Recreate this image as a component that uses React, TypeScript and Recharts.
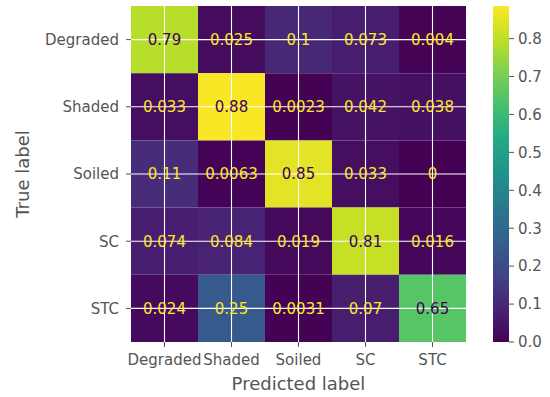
import React from 'react';
import {
  ScatterChart,
  BarChart,
  Bar,
  Scatter,
  XAxis,
  YAxis,
  ReferenceArea,
  ReferenceLine,
  Label,
} from 'recharts';

const classes = ['Degraded', 'Shaded', 'Soiled', 'SC', 'STC'];

// rows = true label, columns = predicted label
const rowDegraded = [0.79, 0.025, 0.1, 0.073, 0.004];
const rowShaded = [0.033, 0.88, 0.0023, 0.042, 0.038];
const rowSoiled = [0.11, 0.0063, 0.85, 0.033, 0];
const rowSC = [0.074, 0.084, 0.019, 0.81, 0.016];
const rowSTC = [0.024, 0.25, 0.0031, 0.07, 0.65];

const colorbarTicks = [0, 0.1, 0.2, 0.3, 0.4, 0.5, 0.6, 0.7, 0.8];
const vmax = 0.886;

const rows = [rowDegraded, rowShaded, rowSoiled, rowSC, rowSTC];
const positions = classes.map((_, i) => i);

const viridis = [
  '#440154', '#482475', '#414487', '#355f8d', '#2a788e', '#21918c',
  '#22a884', '#44bf70', '#7ad151', '#bddf26', '#fde725',
];

function hexToRgb(h: string) {
  return [1, 3, 5].map((i) => parseInt(h.slice(i, i + 2), 16));
}

function viridisColor(t: number) {
  const v = Math.max(0, Math.min(1, t)) * (viridis.length - 1);
  const i = Math.min(Math.floor(v), viridis.length - 2);
  const f = v - i;
  const a = hexToRgb(viridis[i]);
  const b = hexToRgb(viridis[i + 1]);
  const c = a.map((x, k) => Math.round(x + (b[k] - x) * f));
  return `rgb(${c[0]},${c[1]},${c[2]})`;
}

const cells = rows.flatMap((row, y) =>
  row.map((value, x) => ({ x, y, value }))
);

const colorbarData = [{ name: 'scale', v: vmax }];

const tickStyle = { fill: '#555555', fontSize: 15 };
const font = '"DejaVu Sans", sans-serif';

function CellText(props: any) {
  const { cx, cy, payload } = props;
  const dark = payload.value > vmax / 2;
  return (
    <text
      x={cx}
      y={cy}
      dy="0.36em"
      textAnchor="middle"
      fontSize={15}
      fontFamily={font}
      fill={dark ? '#440154' : '#fde725'}
    >
      {String(Number(payload.value.toPrecision(2)))}
    </text>
  );
}

export default function App() {
  return (
    <div
      style={{
        position: 'absolute',
        left: 0,
        top: 0,
        width: 550,
        height: 397,
        background: '#ffffff',
        fontFamily: font,
      }}
    >
      <svg width={0} height={0} style={{ position: 'absolute' }}>
        <defs>
          <linearGradient id="viridisBar" x1="0" y1="1" x2="0" y2="0">
            {viridis.map((c, i) => (
              <stop key={c} offset={i / (viridis.length - 1)} stopColor={c} />
            ))}
          </linearGradient>
        </defs>
      </svg>
      <div style={{ position: 'absolute', left: 0, top: 0 }}>
        <ScatterChart
          width={550}
          height={397}
          margin={{ top: 6, right: 84, bottom: 0, left: 0 }}
        >
          <XAxis
            type="number"
            dataKey="x"
            domain={[-0.5, 4.5]}
            ticks={positions}
            interval={0}
            tickFormatter={(i: number) => classes[i]}
            axisLine={false}
            tickLine={{ stroke: '#555555' }}
            tickSize={5}
            tickMargin={7}
            tick={tickStyle}
            height={55}
          >
            <Label
              content={({ viewBox }: any) => (
                <text
                  x={viewBox.x + viewBox.width / 2}
                  y={viewBox.y + 48}
                  textAnchor="middle"
                  fontSize={18}
                  fontFamily={font}
                  fill="#555555"
                >
                  Predicted label
                </text>
              )}
            />
          </XAxis>
          <YAxis
            type="number"
            dataKey="y"
            domain={[-0.5, 4.5]}
            reversed
            ticks={positions}
            interval={0}
            tickFormatter={(i: number) => classes[i]}
            axisLine={false}
            tickLine={{ stroke: '#555555' }}
            tickSize={5}
            tickMargin={7}
            tick={tickStyle}
            width={131}
          >
            <Label
              content={({ viewBox }: any) => {
                const x = viewBox.x + 29;
                const y = viewBox.y + viewBox.height / 2;
                return (
                  <text
                    x={x}
                    y={y}
                    transform={`rotate(-90 ${x} ${y})`}
                    textAnchor="middle"
                    fontSize={18}
                    fontFamily={font}
                    fill="#555555"
                  >
                    True label
                  </text>
                );
              }}
            />
          </YAxis>
          {cells.map((c) => (
            <ReferenceArea
              key={`a${c.x}-${c.y}`}
              x1={c.x - 0.5}
              x2={c.x + 0.5}
              y1={c.y - 0.5}
              y2={c.y + 0.5}
              fill={viridisColor(c.value / vmax)}
              fillOpacity={1}
              stroke="none"
              ifOverflow="visible"
            />
          ))}
          {positions.map((p) => (
            <ReferenceLine key={`vx${p}`} x={p} stroke="#ffffff" strokeWidth={1.1} />
          ))}
          {positions.map((p) => (
            <ReferenceLine key={`hy${p}`} y={p} stroke="#ffffff" strokeWidth={1.1} />
          ))}
          <Scatter data={cells} shape={CellText} isAnimationActive={false} />
        </ScatterChart>
      </div>
      <div style={{ position: 'absolute', left: 0, top: 0 }}>
        <BarChart
          width={550}
          height={397}
          data={colorbarData}
          margin={{ top: 6, right: 0, bottom: 55, left: 493 }}
          barCategoryGap={0}
        >
          <XAxis dataKey="name" hide />
          <YAxis
            type="number"
            orientation="right"
            domain={[0, vmax]}
            ticks={colorbarTicks}
            interval={0}
            tickFormatter={(v: number) => v.toFixed(1)}
            axisLine={false}
            tickLine={{ stroke: '#555555' }}
            tickSize={5}
            tickMargin={4}
            tick={{ ...tickStyle, textAnchor: 'start' }}
            width={41}
          />
          <Bar dataKey="v" fill="url(#viridisBar)" isAnimationActive={false} />
        </BarChart>
      </div>
    </div>
  );
}
